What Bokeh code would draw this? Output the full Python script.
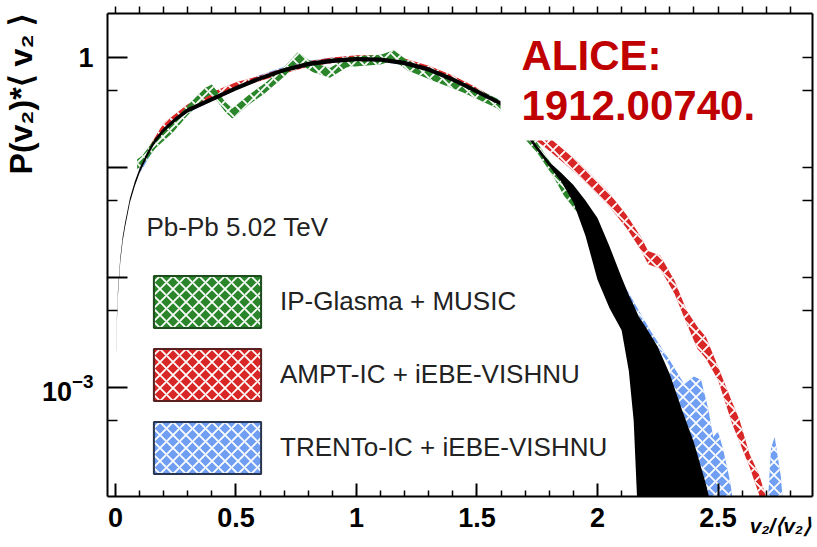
import math
from bokeh.plotting import figure
from bokeh.models import (Range1d, FixedTicker, LinearAxis, LogAxis, LogTickFormatter,
                          Label, BoxAnnotation, Legend, LegendItem, ColumnDataSource, Title)
from bokeh.embed import file_html
from bokeh.resources import INLINE

FONT = "Liberation Sans"

# ---------------- data ----------------
# ALICE measurement band (black)
alice_x = [0.003, 0.006, 0.01, 0.02, 0.03, 0.04, 0.06, 0.08, 0.1, 0.13, 0.16, 0.2, 0.25, 0.3,
           0.35, 0.4, 0.5, 0.6, 0.7, 0.8, 0.9, 1.0, 1.1, 1.2, 1.3, 1.4, 1.5, 1.6, 1.7, 1.8,
           1.85, 1.9, 1.95, 2.0, 2.05, 2.1, 2.13, 2.15, 2.17, 2.2, 2.25, 2.3, 2.35, 2.4, 2.45,
           2.48, 2.5]
alice_lo = [0.00200, 0.00398, 0.00676, 0.0138, 0.0214, 0.0288, 0.0479, 0.0676, 0.0891, 0.123,
            0.162, 0.209, 0.263, 0.316, 0.355, 0.398, 0.501, 0.617, 0.733, 0.832, 0.891, 0.923,
            0.912, 0.851, 0.741, 0.603, 0.468, 0.363, 0.200, 0.102, 0.0741, 0.0479, 0.0240,
            0.00955, 0.00525, 0.00331, 0.00141, 0.000501, 0.0000501, 1e-6, 1e-6, 1e-6, 1e-6,
            1e-6, 1e-6, 1e-6, 1e-6]
alice_hi = [0.00219, 0.00437, 0.00741, 0.0151, 0.0234, 0.0316, 0.0525, 0.0741, 0.0977, 0.135,
            0.178, 0.229, 0.288, 0.347, 0.389, 0.437, 0.550, 0.676, 0.804, 0.912, 0.977, 1.012,
            1.0, 0.933, 0.813, 0.661, 0.513, 0.398, 0.219, 0.112, 0.0891, 0.0692, 0.0501,
            0.0347, 0.0191, 0.0100, 0.00692, 0.00562, 0.00447, 0.00355, 0.00234, 0.00132,
            0.000631, 0.000316, 0.000132, 0.0000708, 0.0000316]

# IP-Glasma + MUSIC (green)
glasma_x = [0.09, 0.11, 0.166, 0.237, 0.30, 0.373, 0.40, 0.456, 0.485, 0.55, 0.62, 0.705, 0.755,
            0.82, 0.89, 0.96, 1.03, 1.10, 1.155, 1.21, 1.31, 1.44, 1.585, 1.75, 1.82, 1.86, 1.93]
glasma_lo = [0.0966, 0.1035, 0.1496, 0.2065, 0.2985, 0.4315, 0.462, 0.320, 0.279, 0.367, 0.473,
             0.684, 0.902, 0.733, 0.653, 0.813, 0.841, 0.861, 0.944, 0.767, 0.624, 0.484, 0.343,
             0.136, 0.0804, 0.0556, 0.0359]
glasma_hi = [0.119, 0.127, 0.184, 0.254, 0.367, 0.531, 0.569, 0.394, 0.343, 0.452, 0.582, 0.841,
             1.109, 0.902, 0.804, 1.0, 1.035, 1.059, 1.161, 0.944, 0.767, 0.596, 0.422, 0.168,
             0.0989, 0.0684, 0.0442]

# AMPT-IC + iEBE-VISHNU (red)
ampt_x = [0.1, 0.2, 0.3, 0.4, 0.5, 0.57, 0.7, 0.8, 0.9, 1.0, 1.1, 1.2, 1.3, 1.4, 1.5, 1.6, 1.7,
          1.79, 1.93, 2.04, 2.12, 2.18, 2.21, 2.26, 2.32, 2.37, 2.415, 2.45, 2.5, 2.56, 2.59,
          2.63, 2.67, 2.70]
ampt_lo = [0.0989, 0.226, 0.335, 0.431, 0.531, 0.582, 0.716, 0.822, 0.891, 0.933, 0.933, 0.871,
           0.750, 0.610, 0.473, 0.351, 0.209, 0.148, 0.0813, 0.0468, 0.0282, 0.0178, 0.0132,
           0.0120, 0.00708, 0.00380, 0.00224, 0.00182, 0.00117, 0.000457, 0.000316, 0.000191,
           0.000107, 0.0000501]
ampt_hi = [0.111, 0.254, 0.376, 0.484, 0.596, 0.653, 0.804, 0.923, 1.0, 1.047, 1.047, 0.977,
           0.841, 0.684, 0.531, 0.394, 0.275, 0.195, 0.107, 0.0617, 0.0372, 0.0234, 0.0174,
           0.0158, 0.00933, 0.00501, 0.00355, 0.00288, 0.00155, 0.000724, 0.000501, 0.000251,
           0.000162, 0.0001]

# TRENTo-IC + iEBE-VISHNU (blue)
trento_x = [0.1, 0.2, 0.3, 0.4, 0.5, 0.6, 0.7, 0.8, 0.9, 1.0, 1.1, 1.2, 1.3, 1.4, 1.5, 1.6, 1.7,
            1.8, 1.9, 2.0, 2.125, 2.22, 2.3, 2.36, 2.40, 2.43, 2.46, 2.48, 2.50, 2.52, 2.55,
            2.58, 2.62, 2.69, 2.70, 2.72, 2.735, 2.76, 2.78]
trento_lo = [0.0881, 0.2065, 0.313, 0.403, 0.507, 0.617, 0.733, 0.832, 0.891, 0.923, 0.912,
             0.851, 0.741, 0.603, 0.468, 0.359, 0.193, 0.0989, 0.0473, 0.0207, 0.00668, 0.00292,
             0.00157, 1e-6, 1e-6, 1e-6, 1e-6, 1e-6, 1e-6, 1e-6, 1e-6, 1e-6, 1e-6, 1e-6, 1e-6,
             1e-6, 1e-6, 1e-6, 1e-6]
trento_hi = [0.0989, 0.2317, 0.351, 0.452, 0.569, 0.692, 0.822, 0.933, 1.0, 1.035, 1.023, 0.955,
             0.832, 0.676, 0.525, 0.403, 0.216, 0.111, 0.0531, 0.0232, 0.00750, 0.00327, 0.00176,
             0.00107, 0.00126, 0.00117, 0.000631, 0.000355, 0.000398, 0.000282, 0.000141,
             0.0000501, 1e-6, 1e-6, 0.0000501, 0.000282, 0.000355, 0.000158, 0.0000501]

model_names = ["IP-Glasma + MUSIC", "AMPT-IC + iEBE-VISHNU", "TRENTo-IC + iEBE-VISHNU"]
x_major = [0, 0.5, 1, 1.5, 2, 2.5]
x_minor = [0.1, 0.2, 0.3, 0.4, 0.6, 0.7, 0.8, 0.9, 1.1, 1.2, 1.3, 1.4, 1.6, 1.7, 1.8, 1.9,
           2.1, 2.2, 2.3, 2.4, 2.6, 2.7, 2.8]
x_all = [0, 0.1, 0.2, 0.3, 0.4, 0.5, 0.6, 0.7, 0.8, 0.9, 1.0, 1.1, 1.2, 1.3, 1.4, 1.5, 1.6, 1.7,
         1.8, 1.9, 2.0, 2.1, 2.2, 2.3, 2.4, 2.5, 2.6, 2.7, 2.8]
y_major = [1e-4, 1e-3, 1e-2, 1e-1, 1]
y_minor = [5e-4, 5e-3, 5e-2, 0.5]
y_all = [1e-4, 5e-4, 1e-3, 5e-3, 1e-2, 5e-2, 1e-1, 0.5, 1]

GREEN = "#2b862b"
RED = "#d92626"
BLUE = "#6f9ef2"

X0, X1 = -0.033, 2.892
Y0, Y1 = 1.02e-4, 2.51

# ---------------- figure ----------------
p = figure(width=817, height=547, y_axis_type="log",
           x_range=Range1d(X0, X1), y_range=Range1d(Y0, Y1),
           output_backend="svg", toolbar_location=None,
           min_border_left=107, min_border_right=5, min_border_top=13, min_border_bottom=51)
p.outline_line_color = None
p.xgrid.visible = False
p.ygrid.visible = False
p.background_fill_color = "white"
p.border_fill_color = "white"

hatch = dict(hatch_pattern="diagonal_cross", hatch_color="white", hatch_weight=1.8,
             hatch_scale=13)

src_t = ColumnDataSource(dict(x=trento_x, lo=trento_lo, hi=trento_hi))
src_a = ColumnDataSource(dict(x=ampt_x, lo=ampt_lo, hi=ampt_hi))
src_g = ColumnDataSource(dict(x=glasma_x, lo=glasma_lo, hi=glasma_hi))
src_d = ColumnDataSource(dict(x=alice_x, lo=alice_lo, hi=alice_hi))

p.varea(x="x", y1="lo", y2="hi", source=src_t, fill_color=BLUE, **hatch)
p.varea(x="x", y1="lo", y2="hi", source=src_a, fill_color=RED, **hatch)
p.varea(x="x", y1="lo", y2="hi", source=src_g, fill_color=GREEN, **hatch)
p.varea(x="x", y1="lo", y2="hi", source=src_d, fill_color="black")

# legend swatches: hidden proxies (one point of each series), only drawn in the legend
lg = []
for xs, ys, col, edge in [(glasma_x, glasma_hi, GREEN, "#1d4d1d"),
                          (ampt_x, ampt_hi, RED, "#5a2020"),
                          (trento_x, trento_hi, BLUE, "#2a3550")]:
    r = p.rect(x=[xs[0]], y=[ys[0]], width=0.01, height=0.01, fill_color=col,
               line_color=edge, line_width=2, **hatch)
    r.visible = False
    lg.append(r)

# the legend swatch is drawn at 80 % of the glyph box
legend = Legend(items=[LegendItem(label=n, renderers=[r]) for n, r in zip(model_names, lg)],
                location=(33, 16), orientation="vertical", glyph_width=134, glyph_height=65,
                spacing=8, padding=0, margin=0, label_standoff=6, label_text_font=FONT,
                label_text_font_size="26px", label_text_color="#222222",
                label_text_baseline="middle",
                border_line_alpha=0, background_fill_alpha=0)
p.add_layout(legend)

# ---------------- axes ----------------
xa = p.xaxis[0]
xa.ticker = FixedTicker(ticks=x_major, minor_ticks=x_minor)
xa.major_tick_in = 13
xa.major_tick_out = 0
xa.minor_tick_in = 6
xa.minor_tick_out = 0
xa.axis_line_width = 2
xa.major_tick_line_width = 2
xa.minor_tick_line_width = 1.5
xa.major_label_text_font = FONT
xa.major_label_text_font_style = "bold"
xa.major_label_text_font_size = "27px"
xa.major_label_text_color = "black"
xa.major_label_standoff = 11
# the label is centred on the right end of the axis; trailing no-break spaces
# shift the visible characters so that they end at the frame edge
xa.axis_label = "v\u2082/\u27e8v\u2082\u27e9" + "\u00a0" * 11
xa.axis_label_text_font = FONT
xa.axis_label_text_font_size = "21px"
xa.axis_label_text_font_style = "bold italic"
xa.axis_label_text_color = "black"
xa.axis_label_standoff = -16
if "axis_label_align" in xa.properties():
    xa.axis_label_align = "end"

ya = p.yaxis[0]
ya.ticker = FixedTicker(ticks=y_major, minor_ticks=y_minor)
ya.formatter = LogTickFormatter()
ya.major_label_overrides = {1.0: "1", 0.1: "", 0.01: "", 0.0001: "",
                            "1": "1", "0.1": "", "0.01": "", "0.0001": ""}
ya.major_tick_in = 20
ya.major_tick_out = 0
ya.minor_tick_in = 10
ya.minor_tick_out = 0
ya.axis_line_width = 2
ya.major_tick_line_width = 2
ya.minor_tick_line_width = 1.5
ya.major_label_text_font = FONT
ya.major_label_text_font_style = "bold"
ya.major_label_text_font_size = "27px"
ya.major_label_text_color = "black"
ya.major_label_standoff = 14

# top and right frame edges: ticks only (drawn as minor ticks, so no labels)
top = LinearAxis(ticker=FixedTicker(ticks=[], minor_ticks=x_all),
                 major_tick_in=0, major_tick_out=0, minor_tick_in=0, minor_tick_out=7,
                 axis_line_width=2, minor_tick_line_width=1.5)
p.add_layout(top, "above")

right = LogAxis(ticker=FixedTicker(ticks=[], minor_ticks=y_all),
                major_tick_in=0, major_tick_out=0, minor_tick_in=10, minor_tick_out=0,
                axis_line_width=2, minor_tick_line_width=1.5)
p.add_layout(right, "right")

# y-axis title, pushed to the upper end of the left side
p.add_layout(Title(text="P(v\u2082)*\u27e8 v\u2082 \u27e9", align="right", text_font=FONT,
                   text_font_size="32px", text_font_style="bold", text_color="black",
                   standoff=0), "left")

# ---------------- annotations (positioned in data coordinates) ----------------
LX0, LX1 = 107, 812      # frame left / right, px
LY0, LY1 = 13, 496       # frame top / bottom, px


def dx(px):
    return X0 + (px - LX0) * (X1 - X0) / (LX1 - LX0)


def dy(py):
    a, b = math.log10(Y1), math.log10(Y0)
    return 10 ** (a - (py - LY0) * (a - b) / (LY1 - LY0))


p.add_layout(BoxAnnotation(left=dx(500), right=dx(760), bottom=dy(140), top=dy(28),
                           fill_color="white", fill_alpha=1.0, line_alpha=0))

p.add_layout(Label(x=dx(521), y=dy(55), text="ALICE:",
                   text_font=FONT, text_font_size="42px", text_font_style="bold",
                   text_color="#c00000", text_baseline="middle"))
p.add_layout(Label(x=dx(521), y=dy(105), text="1912.00740.",
                   text_font=FONT, text_font_size="42px", text_font_style="bold",
                   text_color="#c00000", text_baseline="middle"))

p.add_layout(Label(x=dx(146), y=dy(226), text="Pb-Pb 5.02 TeV", text_font=FONT,
                   text_font_size="26px", text_color="#222222", text_baseline="middle"))

open("out.html", "w").write(file_html(p, INLINE))
